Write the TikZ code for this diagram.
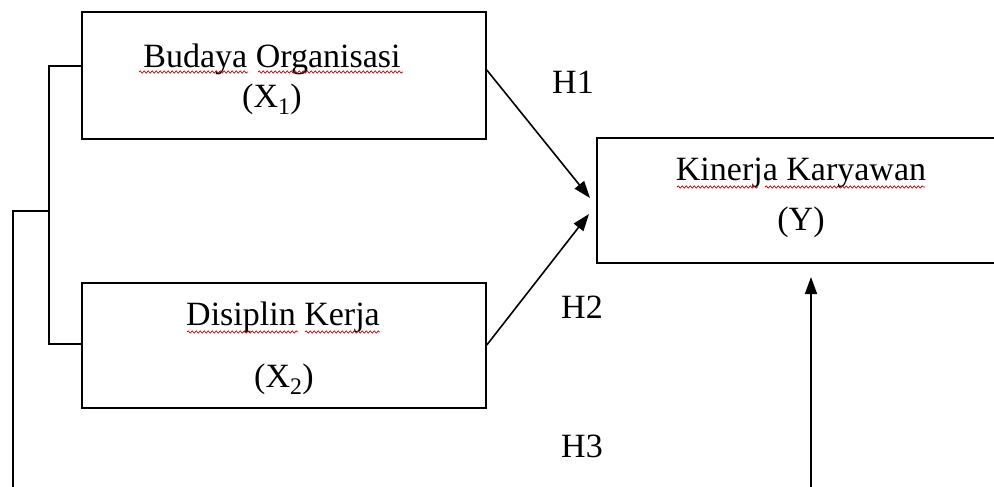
\documentclass[tikz,border=0pt]{standalone}
\usepackage{fontspec}
\setmainfont{Liberation Serif}
\usetikzlibrary{arrows.meta,calc,decorations.pathmorphing}
\begin{document}
\begin{tikzpicture}[x=1pt,y=-1pt, line width=1.6pt,
  box/.style={draw, line width=1.6pt, inner sep=0pt},
  lbl/.style={font=\fontsize{34}{40}\selectfont, inner sep=0pt, anchor=base},
  arr/.style={-{Triangle[length=17pt,width=12pt]}},
  squig/.style={draw=red!80!black, line width=0.7pt, decorate,
    decoration={snake, amplitude=1.1pt, segment length=4pt}}]
\useasboundingbox (0,0) rectangle (994,487);
\clip (0,0) rectangle (994,487);
% boxes
\node[box, minimum width=404pt, minimum height=127pt] (X1) at (284,75.5) {};
\node[box, minimum width=404pt, minimum height=125pt] (X2) at (284,345.5) {};
\node[box, minimum width=413pt, minimum height=125pt] (Y) at (803.5,200.5) {};
% texts
\node[lbl] (t1) at (272,67) {Budaya Organisasi};
\node[lbl] (t1b) at (272,107) {(X\textsubscript{1})};
\node[lbl] (t2) at (283,325) {Disiplin Kerja};
\node[lbl] (t2b) at (284,387) {(X\textsubscript{2})};
\node[lbl] (t3) at (801,180) {Kinerja Karyawan};
\node[lbl] (t3b) at (801,230) {(Y)};
\node[lbl] (h1) at (573,93) {H1};
\node[lbl] (h2) at (582,318) {H2};
\node[lbl] (h3) at (582,457) {H3};
% spell-check squiggles
\draw[squig] (139,72) -- (248,72);
\draw[squig] (258,72) -- (403,72);
\draw[squig] (187,332) -- (298,332);
\draw[squig] (305,332) -- (380,332);
\draw[squig] (677,187) -- (758,187);
\draw[squig] (765,187) -- (925,187);
% bracket
\coordinate (b1) at (49,66);
\coordinate (b2) at (49,344);
\coordinate (b3) at (49,211);
\coordinate (b4) at (13,211);
\coordinate (b5) at (13,500);
\draw (X1.west |- b1) -- (b1) -- (b2) -- (X2.west |- b2);
\draw (b3) -- (b4) -- (b5);
% arrows
\coordinate (a1) at (590,198);
\coordinate (a2) at (589,214);
\draw[arr] (X1.east |- 0,70) -- (a1);
\draw[arr] (X2.east |- 0,345) -- (a2);
\coordinate (v0) at (811,500);
\coordinate (v1) at (811,277);
\draw[arr] (v0) -- (v1);
\end{tikzpicture}
\end{document}
